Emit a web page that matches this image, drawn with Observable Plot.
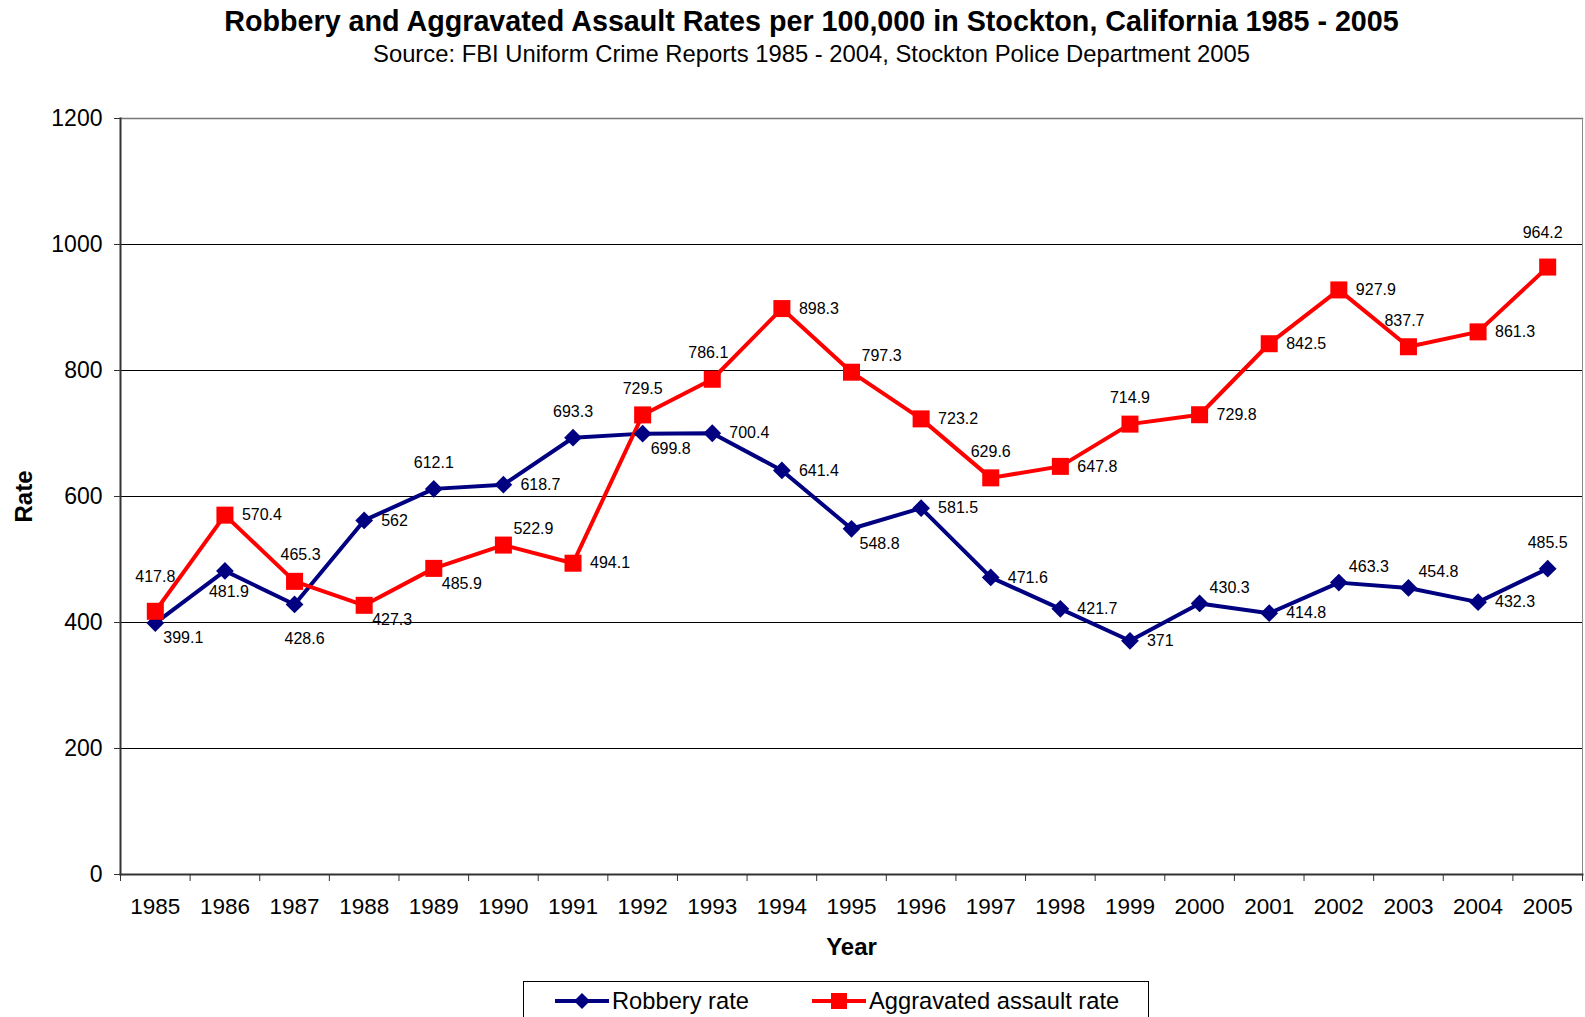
<!DOCTYPE html>
<html><head><meta charset="utf-8">
<script src="https://cdn.jsdelivr.net/npm/d3@7"></script>
<script src="https://cdn.jsdelivr.net/npm/@observablehq/plot@0.6"></script>
<style>
body{margin:0;background:#fff;font-family:"Liberation Sans",Arial,sans-serif;color:#000;}
#wrap{position:relative;width:1585px;height:1017px;overflow:hidden;background:#fff;}
#title{position:absolute;top:4px;left:38px;width:1547px;text-align:center;font-weight:bold;font-size:28.7px;line-height:34px;white-space:nowrap;}
#subtitle{position:absolute;top:40px;left:38px;width:1547px;text-align:center;font-size:23.8px;line-height:28px;white-space:nowrap;}
#chart{position:absolute;top:100px;left:0;}
#chart svg g[aria-label="x-axis label"] text, #chart svg g[aria-label="y-axis label"] text{font-weight:bold;font-size:24px;}
#legend{position:absolute;left:523px;top:981px;width:626px;height:60px;border:1px solid #000;box-sizing:border-box;}
.li{position:absolute;top:5px;height:28px;display:flex;align-items:center;font-size:23.7px;}
.li svg{margin-right:3px;}
</style>
</head><body>
<div id="wrap">
  <div id="title">Robbery and Aggravated Assault Rates per 100,000 in Stockton, California 1985 - 2005</div>
  <div id="subtitle">Source: FBI Uniform Crime Reports 1985 - 2004, Stockton Police Department 2005</div>
  <div id="chart"></div>
  <div id="legend">
    <div class="li" style="left:31px"><svg width="54" height="20"><line x1="0" y1="10" x2="54" y2="10" stroke="#000080" stroke-width="4"/><path d="M27,2 L35,10 L27,18 L19,10Z" fill="#000080"/></svg><span>Robbery rate</span></div>
    <div class="li" style="left:288px"><svg width="54" height="20"><line x1="0" y1="10" x2="54" y2="10" stroke="#ff0000" stroke-width="4"/><rect x="19" y="2" width="16" height="16" fill="#ff0000"/></svg><span>Aggravated assault rate</span></div>
  </div>
</div>
<script>
const years = [1985,1986,1987,1988,1989,1990,1991,1992,1993,1994,1995,1996,1997,1998,1999,2000,2001,2002,2003,2004,2005];
const robbery = [399.1,481.9,428.6,562,612.1,618.7,693.3,699.8,700.4,641.4,548.8,581.5,471.6,421.7,371,430.3,414.8,463.3,454.8,432.3,485.5];
const assault = [417.8,570.4,465.3,427.3,485.9,522.9,494.1,729.5,786.1,898.3,797.3,723.2,629.6,647.8,714.9,729.8,842.5,927.9,837.7,861.3,964.2];
const robberyLabelPos = ["rb","b","b2","r","a","r","a","rb","r","r","rb","r","r","r","r","ra","r","ra","ra","r","a"];
const assaultLabelPos = ["a2","r","ar","rb","rb","ra","r","a","al","r","ra","r","a","r","a","r","r","r","al","r","al2"];
const yTicks = [0,200,400,600,800,1000,1200];

const placements = {
  r:{dx:17,dy:0,anchor:"start"},
  a:{dx:0,dy:-26,anchor:"middle"},
  ar:{dx:6,dy:-26,anchor:"middle"},
  al:{dx:-4,dy:-26,anchor:"middle"},
  a2:{dx:0,dy:-34,anchor:"middle"},
  al2:{dx:-5,dy:-34,anchor:"middle"},
  b:{dx:4,dy:21,anchor:"middle"},
  b2:{dx:10,dy:34,anchor:"middle"},
  rb:{dx:8,dy:15,anchor:"start"},
  ra:{dx:10,dy:-16,anchor:"start"}
};

const rob = years.map((y,i)=>({year:y, value:robbery[i], pos:robberyLabelPos[i]}));
const asl = years.map((y,i)=>({year:y, value:assault[i], pos:assaultLabelPos[i]}));

const W = 1585, H = 870, mL = 120, mR = 3, mT = 18, mB = 96;
const step = (W - mL - mR) / years.length;

function labels(data){
  return Object.keys(placements).map(k => {
    const p = placements[k];
    return Plot.text(data.filter(d=>d.pos===k), {x:"year", y:"value", text:d=>String(d.value), dx:p.dx, dy:p.dy, textAnchor:p.anchor, fontSize:16, fill:"#000"});
  });
}

const chart = Plot.plot({
  width: W, height: H,
  marginLeft: mL, marginRight: mR, marginTop: mT, marginBottom: mB,
  style: {fontFamily:'"Liberation Sans", Arial, sans-serif', fontSize:"22.5px", color:"#000", background:"#fff"},
  x: {type:"point", domain: years, padding:0.5, round:false},
  y: {domain:[0,1200]},
  marks: [
    Plot.gridY(yTicks.slice(1,-1), {stroke:"#000", strokeOpacity:1, strokeWidth:1}),
    Plot.frame({anchor:"top", stroke:"#777", strokeWidth:1.5}),
    Plot.frame({anchor:"right", stroke:"#8a8a8a"}),
    Plot.frame({anchor:"left", stroke:"#333", strokeWidth:2}),
    Plot.frame({anchor:"bottom", stroke:"#333", strokeWidth:2}),
    Plot.axisY({ticks: yTicks, tickSize:6, tickPadding:12, tickFormat:"d", fontSize:23, label:"Rate", labelAnchor:"center", labelArrow:"none", labelOffset:106, stroke:"#333"}),
    Plot.axisX({ticks: years, tickSize:7, dx:-step/2, tickFormat:()=>"", label:null, stroke:"#333"}),
    Plot.axisX({ticks: [2005], tickSize:7, dx:step/2, tickFormat:()=>"", label:null, stroke:"#333"}),
    Plot.axisX({ticks: years, tickSize:0, tickPadding:24, tickFormat:d=>String(d), label:"Year", labelAnchor:"center", labelArrow:"none", labelOffset:80}),
    Plot.line(rob, {x:"year", y:"value", stroke:"#000080", strokeWidth:4}),
    Plot.line(asl, {x:"year", y:"value", stroke:"#ff0000", strokeWidth:4}),
    Plot.dot(rob, {x:"year", y:"value", symbol:"diamond2", r:8, fill:"#000080", stroke:null}),
    Plot.dot(asl, {x:"year", y:"value", symbol:"square", r:9.6, fill:"#ff0000", stroke:null}),
    ...labels(rob),
    ...labels(asl)
  ]
});
document.getElementById("chart").appendChild(chart);
</script>
</body></html>
